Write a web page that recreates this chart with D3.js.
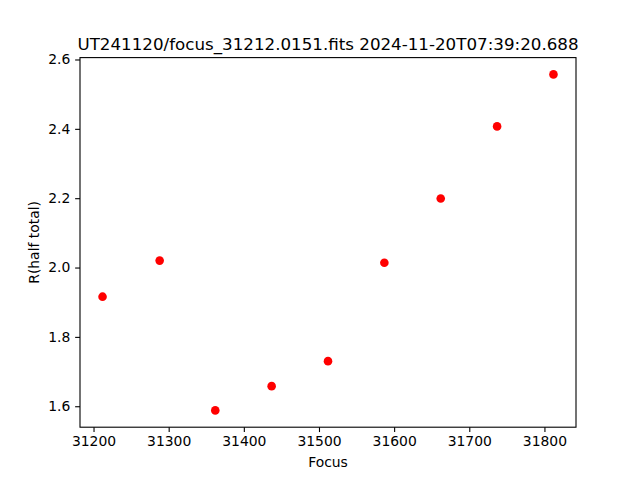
<!DOCTYPE html>
<html>
<head>
<meta charset="utf-8">
<script src="https://cdn.jsdelivr.net/npm/d3@7"></script>
<style>
  body { margin: 0; background: #fff; }
  text { font-family: "DejaVu Sans", sans-serif; fill: #000; }
</style>
</head>
<body>
<svg id="chart" width="640" height="480"></svg>
<script>
const titleText = "UT241120/focus_31212.0151.fits 2024-11-20T07:39:20.688";
const focusValues = [31212, 31288, 31362, 31437, 31512, 31587, 31662, 31737, 31812];
const radiusValues = [1.916, 2.020, 1.588, 1.658, 1.730, 2.014, 2.199, 2.407, 2.557];
const xTicks = [31200, 31300, 31400, 31500, 31600, 31700, 31800];
const yTicks = [1.6, 1.8, 2.0, 2.2, 2.4, 2.6];
const xLabel = "Focus";
const yLabel = "R(half total)";

(function () {
  const W = 640, H = 480;
  const mLeft = 80, mRight = 576, mTop = 57.6, mBottom = 427.2;
  const svg = d3.select("#chart");

  function padded(ext) {
    const d = (ext[1] - ext[0]) * 0.05;
    return [ext[0] - d, ext[1] + d];
  }
  const x = d3.scaleLinear().domain(padded(d3.extent(focusValues))).range([mLeft, mRight]);
  const y = d3.scaleLinear().domain(padded(d3.extent(radiusValues))).range([mBottom, mTop]);

  svg.append("rect").attr("width", W).attr("height", H).attr("fill", "#fff");

  // points
  svg.append("g").selectAll("circle")
    .data(focusValues.map((f, i) => [f, radiusValues[i]]))
    .join("circle")
    .attr("cx", d => x(d[0]))
    .attr("cy", d => y(d[1]))
    .attr("r", 4.3)
    .attr("fill", "#ff0000");

  // axes
  const xAxis = d3.axisBottom(x).tickValues(xTicks).tickFormat(d3.format("d"))
    .tickSizeInner(4.86).tickSizeOuter(0).tickPadding(4.2);
  const yAxis = d3.axisLeft(y).tickValues(yTicks).tickFormat(d3.format(".1f"))
    .tickSizeInner(4.86).tickSizeOuter(0).tickPadding(4.86);

  const gx = svg.append("g").attr("transform", `translate(0,${mBottom})`).call(xAxis);
  const gy = svg.append("g").attr("transform", `translate(${mLeft},0)`).call(yAxis);
  [gx, gy].forEach(g => {
    g.select(".domain").remove();
    g.selectAll(".tick line").attr("stroke", "#000").attr("stroke-width", 1.1);
    g.selectAll(".tick text").attr("font-size", "13.9px").attr("font-family", "DejaVu Sans, sans-serif").attr("fill", "#000");
  });

  // frame
  svg.append("rect")
    .attr("x", mLeft).attr("y", mTop)
    .attr("width", mRight - mLeft).attr("height", mBottom - mTop)
    .attr("fill", "none").attr("stroke", "#000").attr("stroke-width", 1.1);

  // labels
  svg.append("text")
    .attr("x", (mLeft + mRight) / 2).attr("y", 467)
    .attr("text-anchor", "middle").attr("font-size", "13.9px")
    .text(xLabel);

  svg.append("text")
    .attr("transform", `translate(38.5,${(mTop + mBottom) / 2}) rotate(-90)`)
    .attr("text-anchor", "middle").attr("font-size", "13.9px")
    .text(yLabel);

  svg.append("text")
    .attr("x", (mLeft + mRight) / 2).attr("y", 50)
    .attr("text-anchor", "middle").attr("font-size", "16.7px")
    .text(titleText);
})();
</script>
</body>
</html>
